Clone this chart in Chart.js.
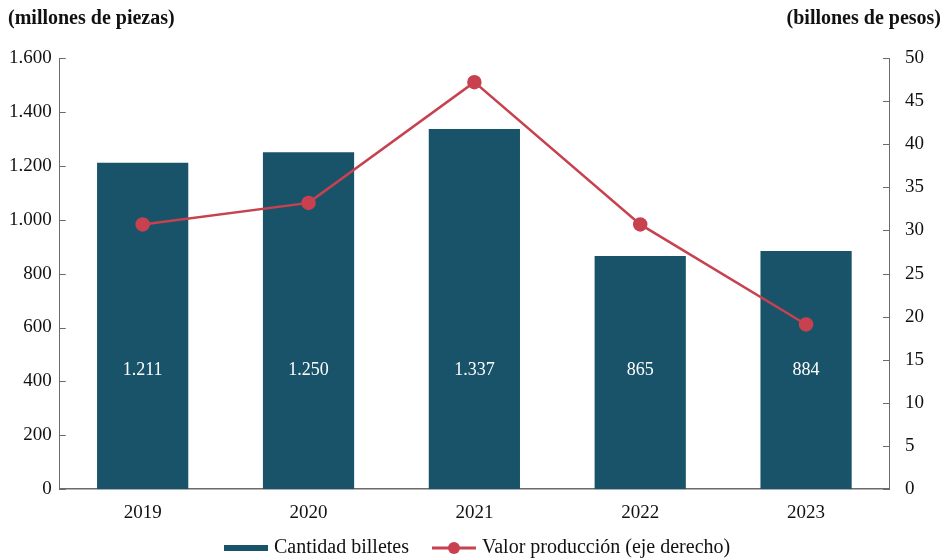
<!DOCTYPE html>
<html>
<head>
<meta charset="utf-8">
<script src="https://cdn.jsdelivr.net/npm/chart.js@4/dist/chart.umd.min.js"></script>
<style>
  html, body { margin: 0; padding: 0; background: #fff; }
  #wrap { width: 947px; height: 558px; }
</style>
</head>
<body>
<div id="wrap"><canvas id="grafico"></canvas></div>
<script>
var years = ['2019', '2020', '2021', '2022', '2023'];
var cantidadBilletes = [1211, 1250, 1337, 865, 884];
var valorProduccion = [30.7, 33.2, 47.2, 30.7, 19.1];
var leftTitle = '(millones de piezas)';
var rightTitle = '(billones de pesos)';
var serieBarras = 'Cantidad billetes';
var serieLinea = 'Valor producción (eje derecho)';

var barColor = '#19536a';
var lineColor = '#c8414f';
var axisColor = '#6b6b6b';
var fontFamily = '"Liberation Serif", "DejaVu Serif", serif';

function miles(v) {
    return String(v).replace(/\B(?=(\d{3})+(?!\d))/g, '.');
}

var extras = {
    id: 'extras',
    afterDraw: function (chart) {
        var ctx = chart.ctx;
        var yl = chart.scales.y;
        var yr = chart.scales.y1;
        ctx.save();
        // axis titles
        ctx.fillStyle = '#111';
        ctx.font = 'bold 20px ' + fontFamily;
        ctx.textBaseline = 'middle';
        ctx.textAlign = 'left';
        ctx.fillText(leftTitle, 8, 19);
        ctx.textAlign = 'right';
        ctx.fillText(rightTitle, 941, 19);
        // inward tick marks
        ctx.strokeStyle = axisColor;
        ctx.lineWidth = 1;
        yl.ticks.forEach(function (t, i) {
            var py = Math.round(yl.getPixelForTick(i)) + 0.5;
            ctx.beginPath(); ctx.moveTo(yl.right, py); ctx.lineTo(yl.right + 6, py); ctx.stroke();
        });
        yr.ticks.forEach(function (t, i) {
            var py = Math.round(yr.getPixelForTick(i)) + 0.5;
            ctx.beginPath(); ctx.moveTo(yr.left, py); ctx.lineTo(yr.left - 6, py); ctx.stroke();
        });
        // value labels inside bars
        ctx.fillStyle = '#ffffff';
        ctx.font = '18px ' + fontFamily;
        ctx.textAlign = 'center';
        var meta = chart.getDatasetMeta(1);
        meta.data.forEach(function (bar, i) {
            ctx.fillText(miles(cantidadBilletes[i]), bar.x, yl.getPixelForValue(440));
        });
        // legend
        ctx.font = '20px ' + fontFamily;
        ctx.textAlign = 'left';
        var mk = 44, g1 = 6, g2 = 23;
        var w1 = ctx.measureText(serieBarras).width;
        var w2 = ctx.measureText(serieLinea).width;
        var total = mk + g1 + w1 + g2 + mk + g1 + w2;
        var x = Math.round(477 - total / 2);
        var ly = 548;
        ctx.fillStyle = barColor;
        ctx.fillRect(x, ly - 3, mk, 6);
        x += mk + g1;
        ctx.fillStyle = '#111';
        ctx.fillText(serieBarras, x, ly);
        x += w1 + g2;
        ctx.strokeStyle = lineColor;
        ctx.lineWidth = 3;
        ctx.beginPath(); ctx.moveTo(x, ly); ctx.lineTo(x + mk, ly); ctx.stroke();
        ctx.fillStyle = lineColor;
        ctx.beginPath(); ctx.arc(x + mk / 2, ly, 6, 0, Math.PI * 2); ctx.fill();
        x += mk + g1;
        ctx.fillStyle = '#111';
        ctx.fillText(serieLinea, x, ly);
        ctx.restore();
    }
};

var ctx = document.getElementById('grafico').getContext('2d');
new Chart(ctx, {
    data: {
        labels: years,
        datasets: [{
            type: 'line',
            label: serieLinea,
            data: valorProduccion,
            yAxisID: 'y1',
            borderColor: lineColor,
            backgroundColor: lineColor,
            borderWidth: 2.5,
            pointRadius: 6,
            pointHoverRadius: 6,
            pointStyle: 'circle',
            tension: 0,
            order: 0
        }, {
            type: 'bar',
            label: serieBarras,
            data: cantidadBilletes,
            yAxisID: 'y',
            backgroundColor: barColor,
            borderWidth: 0,
            categoryPercentage: 1,
            barPercentage: 0.55,
            order: 1
        }]
    },
    options: {
        responsive: true,
        maintainAspectRatio: false,
        animation: false,
        layout: { padding: { top: 58, left: 1, right: 7, bottom: 22 } },
        plugins: {
            tooltip: { enabled: false },
            legend: { display: false }
        },
        scales: {
            x: {
                grid: { display: false, drawTicks: false },
                border: { color: axisColor, width: 1.5 },
                ticks: { color: '#111', padding: 12, font: { family: fontFamily, size: 19 } }
            },
            y: {
                position: 'left',
                min: 0,
                max: 1600,
                grid: { display: false, drawTicks: false },
                border: { color: axisColor, width: 1 },
                ticks: {
                    stepSize: 200,
                    padding: 8,
                    color: '#111',
                    font: { family: fontFamily, size: 19 },
                    callback: function (v) { return miles(v); }
                }
            },
            y1: {
                position: 'right',
                min: 0,
                max: 50,
                grid: { display: false, drawTicks: false },
                border: { color: axisColor, width: 1 },
                ticks: {
                    stepSize: 5,
                    padding: 16,
                    color: '#111',
                    font: { family: fontFamily, size: 19 }
                }
            }
        }
    },
    plugins: [extras]
});
</script>
</body>
</html>
